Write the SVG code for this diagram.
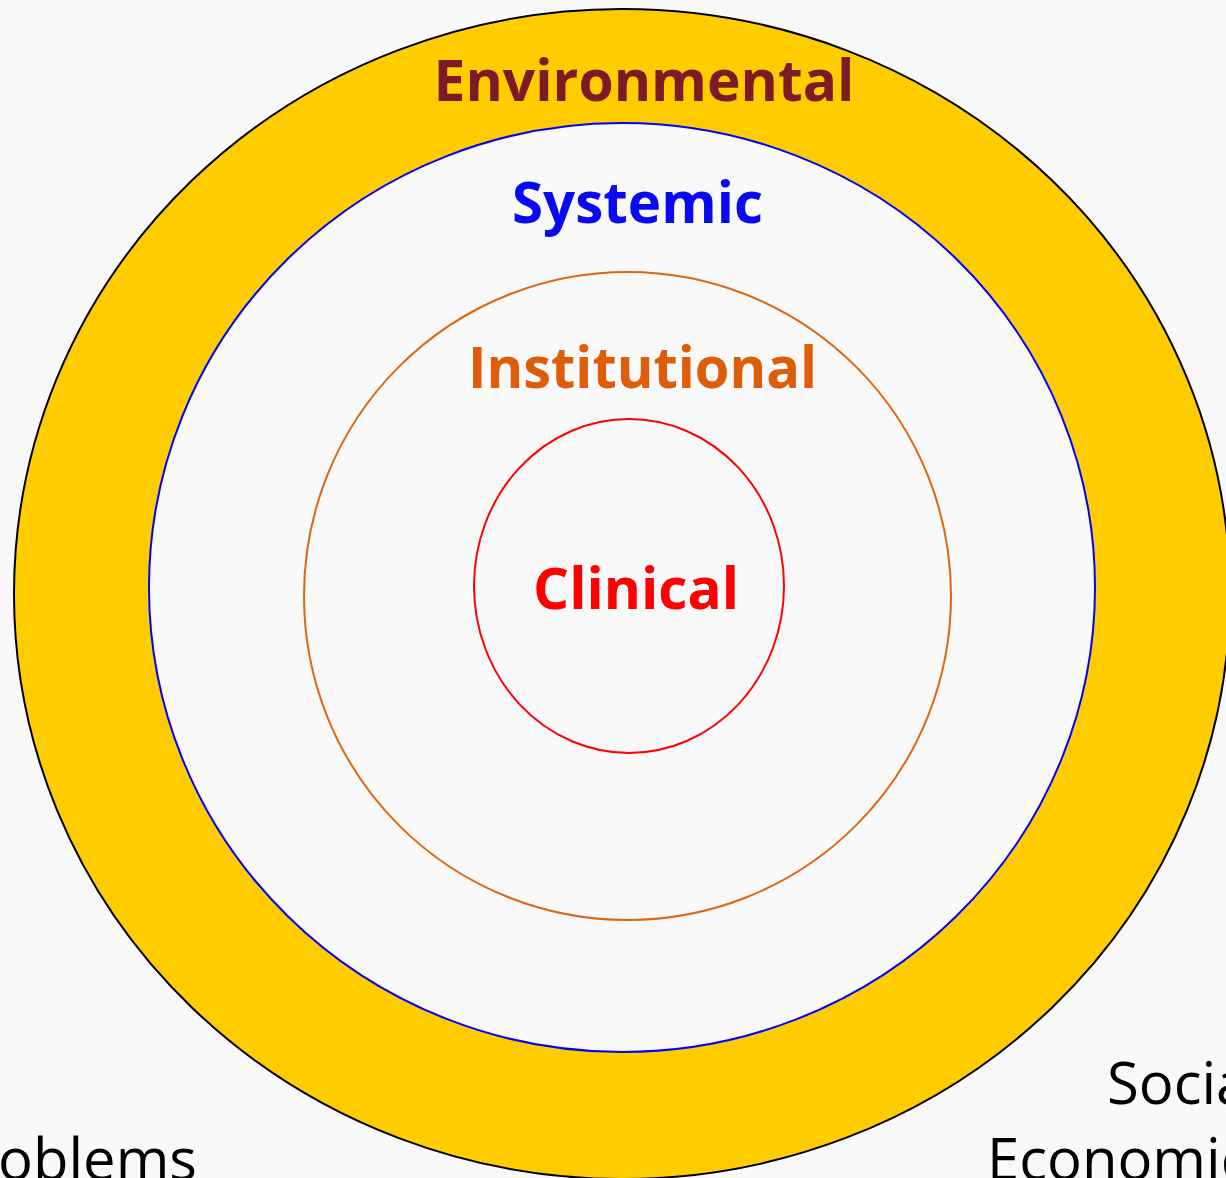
<svg xmlns="http://www.w3.org/2000/svg" width="1226" height="1178" viewBox="0 0 1226 1178">
<style>
.lbl{font-family:"Open Sans","Noto Sans","Liberation Sans",sans-serif;font-weight:bold;font-size:58px;text-anchor:middle}
.side{font-family:"Open Sans","Noto Sans","Liberation Sans",sans-serif;font-size:58px;fill:#000}
</style>
<rect x="0" y="0" width="1226" height="1178" fill="#f9f9f9"/>
<g id="environmental">
<ellipse cx="622" cy="594" rx="608" ry="585" fill="#ffcc00" stroke="#000" stroke-width="2"/>
<text class="lbl" x="644" y="101" fill="#7d1b24" textLength="421" lengthAdjust="spacingAndGlyphs">Environmental</text>
</g>
<g id="systemic">
<ellipse cx="622" cy="587.5" rx="473" ry="464.5" fill="#f9f9f9" stroke="#0000ff" stroke-width="2"/>
<text class="lbl" x="637.5" y="223" fill="#0a0aee" textLength="251" lengthAdjust="spacingAndGlyphs">Systemic</text>
</g>
<g id="institutional">
<ellipse cx="627.5" cy="596" rx="323.5" ry="324" fill="none" stroke="#dd6611" stroke-width="2"/>
<text class="lbl" x="642.5" y="388" fill="#dd5d0b" textLength="349" lengthAdjust="spacingAndGlyphs">Institutional</text>
</g>
<g id="clinical">
<ellipse cx="629" cy="586" rx="155" ry="167" fill="none" stroke="#ff0000" stroke-width="2"/>
<text class="lbl" x="636" y="609" fill="#ff0000" textLength="206" lengthAdjust="spacingAndGlyphs">Clinical</text>
</g>
<g id="side-labels">
<text class="side" x="1107" y="1104">Social</text>
<text class="side" x="987" y="1180">Economic</text>
<text class="side" x="197" y="1180" text-anchor="end">Problems</text>
</g>
<g id="connectors"></g>
</svg>
